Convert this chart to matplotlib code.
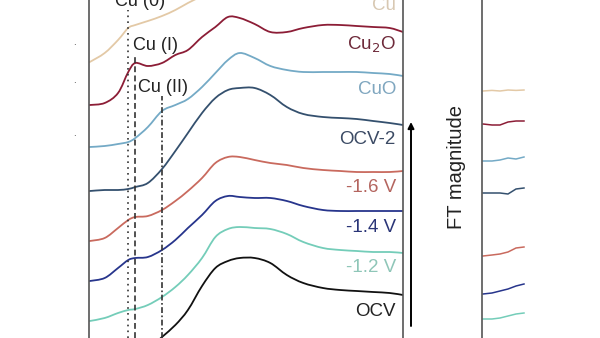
import numpy as np
import matplotlib
matplotlib.use('Agg')
import matplotlib.pyplot as plt
from matplotlib.path import Path
from matplotlib.patches import PathPatch

plt.rcParams['font.family'] = ['Liberation Sans', 'DejaVu Sans']

# XANES energy grid (eV)
energy = [8970.1, 8972.0, 8973.7, 8975.0, 8975.9, 8977.5, 8979.3, 8981.0, 8982.6,
          8984.4, 8986.1, 8987.7, 8989.2, 8991.1, 8993.1, 8995.2, 8997.3, 8999.8,
          9002.0, 9004.1, 9006.2, 9008.3, 9010.0]

# normalized absorption, stacked with offsets
mu_cu = [6.90, 7.125, 7.45, 7.75, 7.825, 7.925, 8.05, 8.2, 8.375, 8.55]
mu_cu2o = [5.825, 5.875, 6.125, 6.65, 6.875, 6.8, 6.875, 7.075, 7.2, 7.525, 7.775, 8.025,
           8.0, 7.85, 7.65, 7.65, 7.75, 7.825, 7.825, 7.8, 7.775, 7.75, 7.65]
mu_cuo = [4.775, 4.8, 4.85, 4.9, 5.0, 5.275, 5.675, 5.825, 5.975, 6.275, 6.625, 6.95,
          7.125, 7.0, 6.8, 6.7, 6.65, 6.65, 6.65, 6.65, 6.625, 6.6, 6.55]
mu_ocv2 = [3.675, 3.7, 3.7, 3.725, 3.775, 3.875, 4.225, 4.675, 5.125, 5.625, 6.0, 6.2,
           6.25, 6.25, 6.075, 5.775, 5.6, 5.525, 5.5, 5.475, 5.425, 5.375, 5.325]
mu_16 = [2.425, 2.5, 2.75, 2.95, 3.025, 3.05, 3.2, 3.425, 3.675, 4.0, 4.375, 4.525,
         4.525, 4.45, 4.375, 4.325, 4.25, 4.2, 4.175, 4.15, 4.15, 4.15, 4.175]
mu_14 = [1.425, 1.5, 1.75, 1.95, 2.0, 2.025, 2.2, 2.45, 2.75, 3.075, 3.425, 3.55,
         3.525, 3.5, 3.5, 3.425, 3.3, 3.2, 3.175, 3.175, 3.175, 3.175, 3.175]
mu_12 = [0.425, 0.5, 0.625, 0.7, 0.725, 0.825, 1.025, 1.275, 1.575, 2.0, 2.525, 2.725,
         2.775, 2.75, 2.725, 2.6, 2.4, 2.25, 2.2, 2.175, 2.15, 2.15, 2.125]
mu_ocv = [-0.3, 0.025, 0.325, 0.7, 1.3, 1.75, 1.925, 2.0, 2.0, 1.875, 1.575, 1.375,
          1.25, 1.2, 1.175, 1.15, 1.125, 1.075]

# FT (R space) start of each trace
r_grid = [0.05, 0.5, 0.9, 1.3, 1.7, 2.1]
ft_cu = [6.175, 6.19, 6.175, 6.2, 6.19, 6.2]
ft_cu2o = [5.35, 5.325, 5.325, 5.4, 5.425, 5.425]
ft_cuo = [4.425, 4.425, 4.45, 4.5, 4.475, 4.525]
ft_ocv2 = [3.625, 3.625, 3.625, 3.6, 3.725, 3.75]
ft_16 = [2.05, 2.075, 2.1, 2.15, 2.25, 2.275]
ft_14 = [1.1, 1.125, 1.175, 1.225, 1.3, 1.35]
ft_12 = [0.475, 0.475, 0.5, 0.55, 0.6, 0.625]

labels = ['Cu', 'Cu$_2$O', 'CuO', 'OCV-2', '-1.6 V', '-1.4 V', '-1.2 V', 'OCV']
colors = ['#e3c9a6', '#8c1d36', '#74aac6', '#34506e', '#c96a5e', '#27358c', '#74cdb9', '#111111']
text_colors = ['#d8c8b2', '#6e2a3a', '#7fa6bf', '#3b4a64', '#b4655f', '#2a3577', '#8fc6b8', '#222222']
label_y = [8.3, 7.325, 6.2, 4.95, 3.75, 2.75, 1.75, 0.65]

edges = [8975.0, 8975.9, 8979.3]
edge_names = ['Cu (0)', 'Cu (I)', 'Cu (II)']


def smooth_line(ax, x, y, color, lw):
    """draw the points joined by Catmull-Rom style bezier segments"""
    x = np.asarray(x, float)
    y = np.asarray(y, float)
    n = len(x)
    verts = [(x[0], y[0])]
    codes = [Path.MOVETO]
    for i in range(n-1):
        x0, y0 = (x[i-1], y[i-1]) if i > 0 else (x[i], y[i])
        x3, y3 = (x[i+2], y[i+2]) if i < n-2 else (x[i+1], y[i+1])
        c1 = (x[i] + (x[i+1]-x0)/6., y[i] + (y[i+1]-y0)/6.)
        c2 = (x[i+1] - (x3-x[i])/6., y[i+1] - (y3-y[i])/6.)
        verts += [c1, c2, (x[i+1], y[i+1])]
        codes += [Path.CURVE4]*3
    ax.add_patch(PathPatch(Path(verts, codes), fc='none', ec=color, lw=lw,
                           capstyle='round', joinstyle='round'))


fig = plt.figure(figsize=(6, 3.38), dpi=100)
W, H = 600., 338.

ax = fig.add_axes([89/W, 0, (403-89)/W, 1])
ax.set_xlim(8970, 9010)
ax.set_ylim(0, 8.45)
xanes = [mu_cu, mu_cu2o, mu_cuo, mu_ocv2, mu_16, mu_14, mu_12]
for i in range(len(xanes)):
    y = xanes[i]
    smooth_line(ax, energy[:len(y)], y, colors[i], 1.3)
smooth_line(ax, energy[5:], mu_ocv, colors[7], 1.3)

for i in range(len(labels)):
    ax.text(9009.1, label_y[i], labels[i], color=text_colors[i], fontsize=13.5,
            ha='right', va='center')

# edge markers
ax.axvline(edges[0], ymax=0.97, color='#333333', lw=1.2, ls=(0, (1, 2.5)))
ax.axvline(edges[1], ymax=0.83, color='#333333', lw=1.2, ls=(0, (3.5, 2)))
ax.axvline(edges[2], ymax=0.715, color='#333333', lw=1.2, ls=(0, (3.5, 1.5, 1, 1.5)))
ax.text(8973.3, 8.42, edge_names[0], fontsize=13, color='#222222', ha='left', va='center')
ax.text(8975.6, 7.3, edge_names[1], fontsize=13, color='#222222', ha='left', va='center')
ax.text(8976.2, 6.25, edge_names[2], fontsize=13, color='#222222', ha='left', va='center')

for s in ['top', 'bottom']:
    ax.spines[s].set_visible(False)
for s in ['left', 'right']:
    ax.spines[s].set_color('#555555')
    ax.spines[s].set_linewidth(1.2)
ax.set_xticks([])
ax.set_yticks([])

# FT panel (only its start is visible)
ax2 = fig.add_axes([482/W, 0, (600-482)/W, 1])
ax2.set_xlim(0, 5.9)
ax2.set_ylim(0, 8.45)
fts = [ft_cu, ft_cu2o, ft_cuo, ft_ocv2, ft_16, ft_14, ft_12]
for i in range(len(fts)):
    ax2.plot(r_grid, fts[i], color=colors[i], lw=1.1)
for s in ['top', 'bottom', 'right']:
    ax2.spines[s].set_visible(False)
ax2.spines['left'].set_color('#555555')
ax2.spines['left'].set_linewidth(1.2)
ax2.set_xticks([])
ax2.set_yticks([])

ax2.annotate('', xy=(411, 338-122), xycoords='figure pixels',
             xytext=(411, 338-326), textcoords='figure pixels',
             arrowprops=dict(arrowstyle='-|>', color='black', lw=1.4,
                             mutation_scale=9, shrinkA=0, shrinkB=0),
             annotation_clip=False)
fig.text(457/W, (338-167)/H, 'FT magnitude', rotation=90, fontsize=14.5,
         ha='center', va='center', color='#222222')

# remnants of cropped tick labels on the far left
for py in [42, 80, 133]:
    fig.text(74/W, (338-py)/H, '.', fontsize=7, color='#333333', ha='center', va='center')

fig.savefig('out.png', dpi=100)
